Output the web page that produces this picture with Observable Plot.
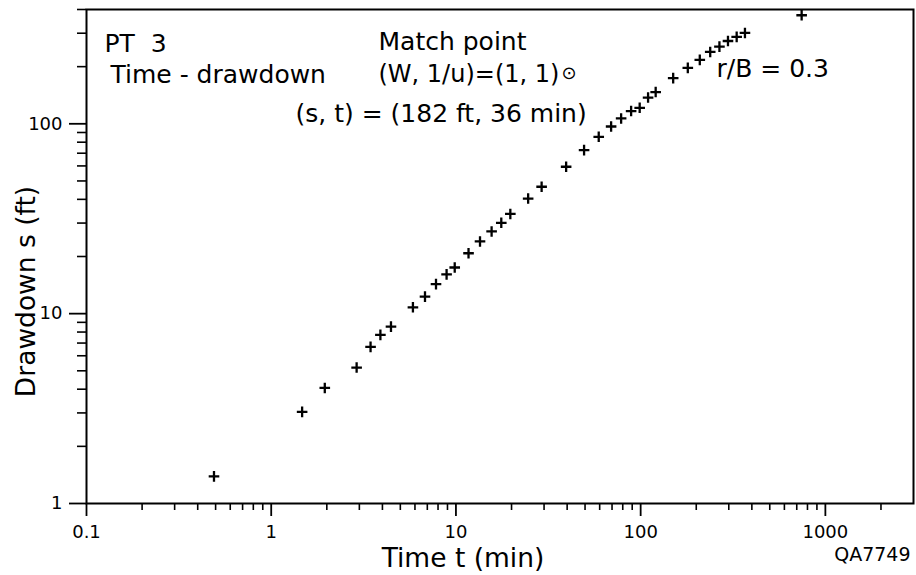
<!DOCTYPE html>
<html><head><meta charset="utf-8">
<script src="https://cdn.jsdelivr.net/npm/d3@7"></script>
<script src="https://cdn.jsdelivr.net/npm/@observablehq/plot@0.6"></script>
<style>html,body{margin:0;padding:0;background:#fff;} #chart svg{display:block;}</style>
</head><body><div id="chart"></div>
<script>
// Time-drawdown data, PT 3
const timeMin = [0.49, 1.47, 1.95, 2.9, 3.45, 3.9, 4.45, 5.85, 6.8, 7.8, 8.9, 9.85, 11.7, 13.5, 15.6, 17.6, 19.7, 24.6, 29.1, 39.5, 49.4, 59.3, 69.2, 78.4, 88.8, 98.8, 109.7, 120.6, 150, 180, 209, 238, 267, 297, 331, 367, 744];
const drawdownFt = [1.39, 3.04, 4.06, 5.2, 6.68, 7.73, 8.54, 10.8, 12.3, 14.3, 16.1, 17.5, 20.8, 24.0, 27.1, 30.1, 33.5, 40.4, 46.6, 59.4, 72.7, 85.4, 96.8, 106.7, 116.7, 121.4, 137.5, 147, 174, 197, 217, 239, 255, 273, 287, 301, 373];

const xMajorTicks = [0.1, 1, 10, 100, 1000];
const xMinorTicks = [0.2, 0.3, 0.4, 0.5, 0.6, 0.7, 0.8, 0.9, 2, 3, 4, 5, 6, 7, 8, 9, 20, 30, 40, 50, 60, 70, 80, 90, 200, 300, 400, 500, 600, 700, 800, 900, 2000];
const yMajorTicks = [1, 10, 100];
const yMinorTicks = [2, 3, 4, 5, 6, 7, 8, 9, 20, 30, 40, 50, 60, 70, 80, 90, 200, 300, 400];

const xTitle = "Time t (min)";
const yTitle = "Drawdown s (ft)";
const wellLabel = "PT\u00a0\u00a03";
const curveLabel = "Time - drawdown";
const matchTitle = "Match point";
const matchW = "(W, 1/u)=(1, 1)";
const matchSymbol = "\u2299";
const matchST = "(s, t) = (182 ft, 36 min)";
const ratioLabel = "r/B = 0.3";
const figureId = "QA7749";

const data = timeMin.map((t, i) => ({t, s: drawdownFt[i]}));

const plusSymbol = {
  draw(context, size) {
    const r = Math.sqrt(size / Math.PI);
    context.moveTo(-r, 0); context.lineTo(r, 0);
    context.moveTo(0, -r); context.lineTo(0, r);
  }
};

const fmt = d => String(d);
const note = (txt, dx, dy, extra = {}) => Plot.text([txt], {
  text: d => d, frameAnchor: "top-left", textAnchor: "start", lineAnchor: "top",
  dx, dy, fontSize: 25, fill: "black", ...extra
});

const chart = Plot.plot({
  width: 916,
  height: 575,
  marginLeft: 86,
  marginRight: 3,
  marginTop: 9,
  marginBottom: 72,
  style: {fontFamily: "DejaVu Sans", fontSize: "18px", color: "black", background: "white"},
  x: {type: "log", domain: [0.1, 3000]},
  y: {type: "log", domain: [1, 400]},
  marks: [
    Plot.axisX(xMinorTicks, {tickSize: 7, tickFormat: () => "", label: null, strokeWidth: 1.6}),
    Plot.axisX(xMajorTicks, {tickSize: 13, tickPadding: 9, tickFormat: fmt, label: null, strokeWidth: 1.8, fontSize: 18}),
    Plot.axisY(yMinorTicks, {tickSize: 9, tickFormat: () => "", label: null, strokeWidth: 1.6}),
    Plot.axisY(yMajorTicks, {tickSize: 17, tickPadding: 7, tickFormat: fmt, label: null, strokeWidth: 1.8, fontSize: 18}),
    Plot.frame({stroke: "black", strokeWidth: 2}),
    Plot.dot(data, {x: "t", y: "s", symbol: plusSymbol, r: 5.3, stroke: "black", strokeWidth: 2.3, fill: "none"}),
    note(wellLabel, 18, 25),
    note(curveLabel, 24, 56),
    note(matchTitle, 292, 23),
    note(matchW, 292, 55, {fontSize: 24}),
    note(matchSymbol, 475, 57, {fontSize: 18}),
    note(matchST, 209, 95),
    note(ratioLabel, 630, 50),
    Plot.text([xTitle], {text: d => d, frameAnchor: "bottom", textAnchor: "middle", lineAnchor: "middle", dx: -37, dy: 55.5, fontSize: 26.5}),
    Plot.text([yTitle], {text: d => d, frameAnchor: "left", textAnchor: "middle", lineAnchor: "middle", rotate: -90, dx: -59.5, dy: 35, fontSize: 26.5}),
    Plot.text([figureId], {text: d => d, frameAnchor: "bottom-right", textAnchor: "end", lineAnchor: "middle", dx: -3, dy: 51, fontSize: 19})
  ]
});
document.getElementById("chart").appendChild(chart);
</script>
</body></html>
